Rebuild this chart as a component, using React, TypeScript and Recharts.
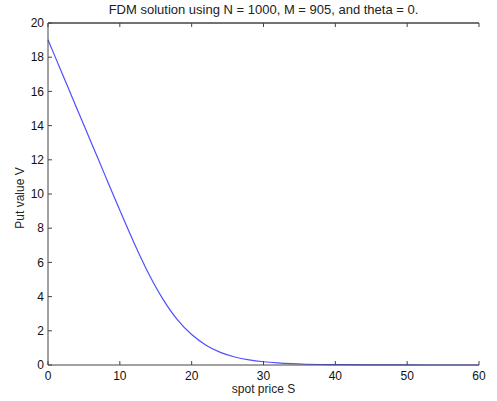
import { Line, LineChart, ReferenceLine, XAxis, YAxis } from "recharts";

const spotPrices = [0, 2, 4, 6, 8, 10, 12, 14, 16, 18, 20, 22, 24, 26, 28, 30, 32, 34, 36, 38, 40, 45, 50, 55, 60];
const putValues = [
  19.02, 17.02, 15.02, 13.03, 11.03, 9.05, 7.12, 5.35, 3.85, 2.65, 1.78, 1.16, 0.74, 0.47, 0.3, 0.19, 0.12,
  0.075, 0.045, 0.028, 0.017, 0.005, 0.0015, 0.0005, 0,
];
const xTicks = [0, 10, 20, 30, 40, 50, 60];
const yTicks = [0, 2, 4, 6, 8, 10, 12, 14, 16, 18, 20];

const data = spotPrices.map((s, i) => ({ s, v: putValues[i] }));

const font = '"Liberation Sans", Arial, sans-serif';
const axisColor = "#444";
const tickStyle = { fill: "#111", fontSize: 12, fontFamily: font };

export default function App() {
  return (
    <div style={{ position: "absolute", left: 0, top: 0, width: 497, height: 401, background: "#fff" }}>
      <LineChart width={497} height={401} data={data} margin={{ top: 19, right: 18, bottom: 0, left: 0 }}>
        <XAxis
          dataKey="s"
          type="number"
          domain={[0, 60]}
          ticks={xTicks}
          tickSize={-4}
          tickMargin={10}
          height={36}
          stroke={axisColor}
          tick={tickStyle}
          interval={0}
        />
        {/* box: ticks on top and right, no labels */}
        <XAxis
          xAxisId="top"
          orientation="top"
          dataKey="s"
          type="number"
          domain={[0, 60]}
          ticks={xTicks}
          tickSize={-4}
          height={4}
          stroke={axisColor}
          tickFormatter={() => ""}
          interval={0}
        />
        <YAxis
          domain={[0, 20]}
          ticks={yTicks}
          tickSize={-4}
          tickMargin={8}
          width={48}
          stroke={axisColor}
          tick={tickStyle}
          interval={0}
        />
        <YAxis
          yAxisId="right"
          orientation="right"
          domain={[0, 20]}
          ticks={yTicks}
          tickSize={-4}
          width={0}
          stroke={axisColor}
          tickFormatter={() => ""}
          interval={0}
        />
        <ReferenceLine y={20} stroke={axisColor} />
        <Line
          type="monotone"
          dataKey="v"
          stroke="#5050ff"
          strokeWidth={1.2}
          dot={false}
          isAnimationActive={false}
        />
      </LineChart>
      <div
        style={{
          position: "absolute",
          left: 48,
          width: 431,
          top: 2,
          textAlign: "center",
          fontFamily: font,
          fontSize: 13,
          color: "#222",
        }}
      >
        FDM solution using N = 1000, M = 905, and theta = 0.
      </div>
      <div
        style={{
          position: "absolute",
          left: 48,
          width: 431,
          top: 382,
          textAlign: "center",
          fontFamily: font,
          fontSize: 12,
          color: "#222",
        }}
      >
        spot price S
      </div>
      <div
        style={{
          position: "absolute",
          left: 20,
          top: 198,
          transform: "translate(-50%, -50%) rotate(-90deg)",
          whiteSpace: "nowrap",
          fontFamily: font,
          fontSize: 12,
          color: "#222",
        }}
      >
        Put value V
      </div>
    </div>
  );
}
